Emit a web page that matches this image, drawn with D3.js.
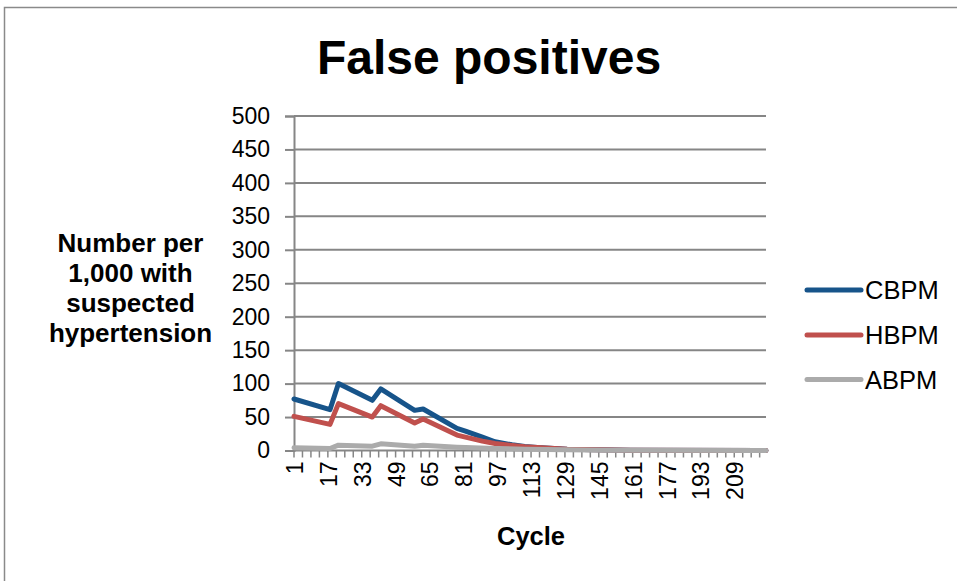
<!DOCTYPE html>
<html>
<head>
<meta charset="utf-8">
<script src="https://cdn.jsdelivr.net/npm/d3@7"></script>
<style>
  html, body { margin: 0; padding: 0; background: #fff; }
  svg { display: block; font-family: "Liberation Sans", Arial, sans-serif; }
</style>
</head>
<body>
<svg id="chart" width="957" height="581"></svg>
<script>
// ---- data ----
const title = "False positives";
const xTitle = "Cycle";
const yTitleLines = ["Number per", "1,000 with", "suspected", "hypertension"];
const cycleCount = 224;
const xTickLabels = ["1", "17", "33", "49", "65", "81", "97", "113", "129", "145", "161", "177", "193", "209"];
const yTicks = [0, 50, 100, 150, 200, 250, 300, 350, 400, 450, 500];
const seriesNames = ["CBPM", "HBPM", "ABPM"];
const seriesColors = ["#17548A", "#C0504D", "#ABABAB"];

// cycle numbers where the lines bend, and values at those cycles
const cbpmCycles = [1, 18, 22, 38, 42, 58, 62, 78, 82, 90, 96, 104, 110, 116, 130, 145, 160, 224];
const cbpmValues = [77, 61, 100, 75, 92, 60, 62, 33, 29, 20, 13, 8.5, 6, 4.5, 2, 1, 0.5, 0];
const hbpmCycles = [1, 18, 22, 38, 42, 58, 62, 78, 82, 90, 96, 104, 110, 116, 130, 145, 160, 224];
const hbpmValues = [51, 39, 70, 50, 67, 41, 47, 23, 20, 14, 10.5, 7.5, 5.5, 4.5, 2, 1, 0.5, 0];
const abpmCycles = [1, 18, 22, 38, 42, 58, 62, 78, 82, 96, 110, 130, 150, 224];
const abpmValues = [4, 3, 8, 6.5, 10, 6.5, 8, 5, 4.5, 3, 2, 1, 0.5, 0];

const seriesCycles = [cbpmCycles, hbpmCycles, abpmCycles];
const seriesValues = [cbpmValues, hbpmValues, abpmValues];

// ---- drawing ----
const svg = d3.select("#chart");

// outer chart border
svg.append("rect")
  .attr("x", 4.5).attr("y", 7.5)
  .attr("width", 970).attr("height", 600)
  .attr("fill", "none").attr("stroke", "#8a8a8a").attr("stroke-width", 1.5);

const x = d3.scaleLinear().domain([1, cycleCount]).range([294, 766]);
const y = d3.scaleLinear().domain([0, 500]).range([450.5, 116]);

// gridlines + y ticks
const yAxis = d3.axisLeft(y).tickValues(yTicks).tickSize(9).tickPadding(15).tickFormat(d3.format("d"));
const gy = svg.append("g").attr("transform", "translate(294,0)").call(yAxis);
gy.select(".domain").attr("stroke", "#868686").attr("stroke-width", 2);
gy.selectAll(".tick line").attr("stroke", "#868686").attr("stroke-width", 2);
gy.selectAll(".tick text").attr("font-size", 23).attr("fill", "#000")
  .attr("font-family", "Liberation Sans, Arial, sans-serif");

svg.append("g").selectAll("line").data(yTicks.filter(d => d > 0)).join("line")
  .attr("x1", 294).attr("x2", 766)
  .attr("y1", d => y(d)).attr("y2", d => y(d))
  .attr("stroke", "#868686").attr("stroke-width", 2);

// x axis
const tickCycles = d3.range(1, cycleCount + 1, 4);
const gx = svg.append("g").attr("transform", `translate(0,${y(0)})`);
gx.append("line").attr("x1", 294).attr("x2", 766).attr("y1", 0).attr("y2", 0)
  .attr("stroke", "#868686").attr("stroke-width", 2);
gx.selectAll("line.tk").data(tickCycles).join("line").attr("class", "tk")
  .attr("x1", d => x(d)).attr("x2", d => x(d)).attr("y1", 0).attr("y2", 7)
  .attr("stroke", "#868686").attr("stroke-width", 1.5);
gx.selectAll("text").data(xTickLabels).join("text")
  .attr("transform", d => `translate(${x(+d) + 9},11) rotate(-90)`)
  .attr("text-anchor", "end")
  .attr("font-size", 23).attr("fill", "#000")
  .text(d => d);

// lines
const line = d3.line().x(d => x(d[0])).y(d => y(d[1]));
seriesNames.forEach((name, i) => {
  const pts = seriesCycles[i].map((c, j) => [c, seriesValues[i][j]]);
  svg.append("path").datum(pts)
    .attr("d", line)
    .attr("fill", "none")
    .attr("stroke", seriesColors[i])
    .attr("stroke-width", 5)
    .attr("stroke-linejoin", "round")
    .attr("stroke-linecap", "round");
});

// title
svg.append("text").attr("x", 489).attr("y", 74)
  .attr("text-anchor", "middle").attr("font-size", 48).attr("font-weight", "bold")
  .text(title);

// x title
svg.append("text").attr("x", 531).attr("y", 545)
  .attr("text-anchor", "middle").attr("font-size", 25.5).attr("font-weight", "bold")
  .text(xTitle);

// y title
svg.append("text").attr("text-anchor", "middle").attr("font-size", 26).attr("font-weight", "bold")
  .selectAll("tspan").data(yTitleLines).join("tspan")
  .attr("x", 130.5).attr("y", (d, i) => 251.5 + i * 30)
  .text(d => d);

// legend
const lg = svg.append("g");
seriesNames.forEach((name, i) => {
  const ly = [290, 335, 379.5][i];
  lg.append("line").attr("x1", 807).attr("x2", 861).attr("y1", ly).attr("y2", ly)
    .attr("stroke", seriesColors[i]).attr("stroke-width", 5).attr("stroke-linecap", "round");
  lg.append("text").attr("x", 865).attr("y", ly + 9)
    .attr("font-size", 25.5).attr("fill", "#000").text(name);
});
</script>
</body>
</html>
